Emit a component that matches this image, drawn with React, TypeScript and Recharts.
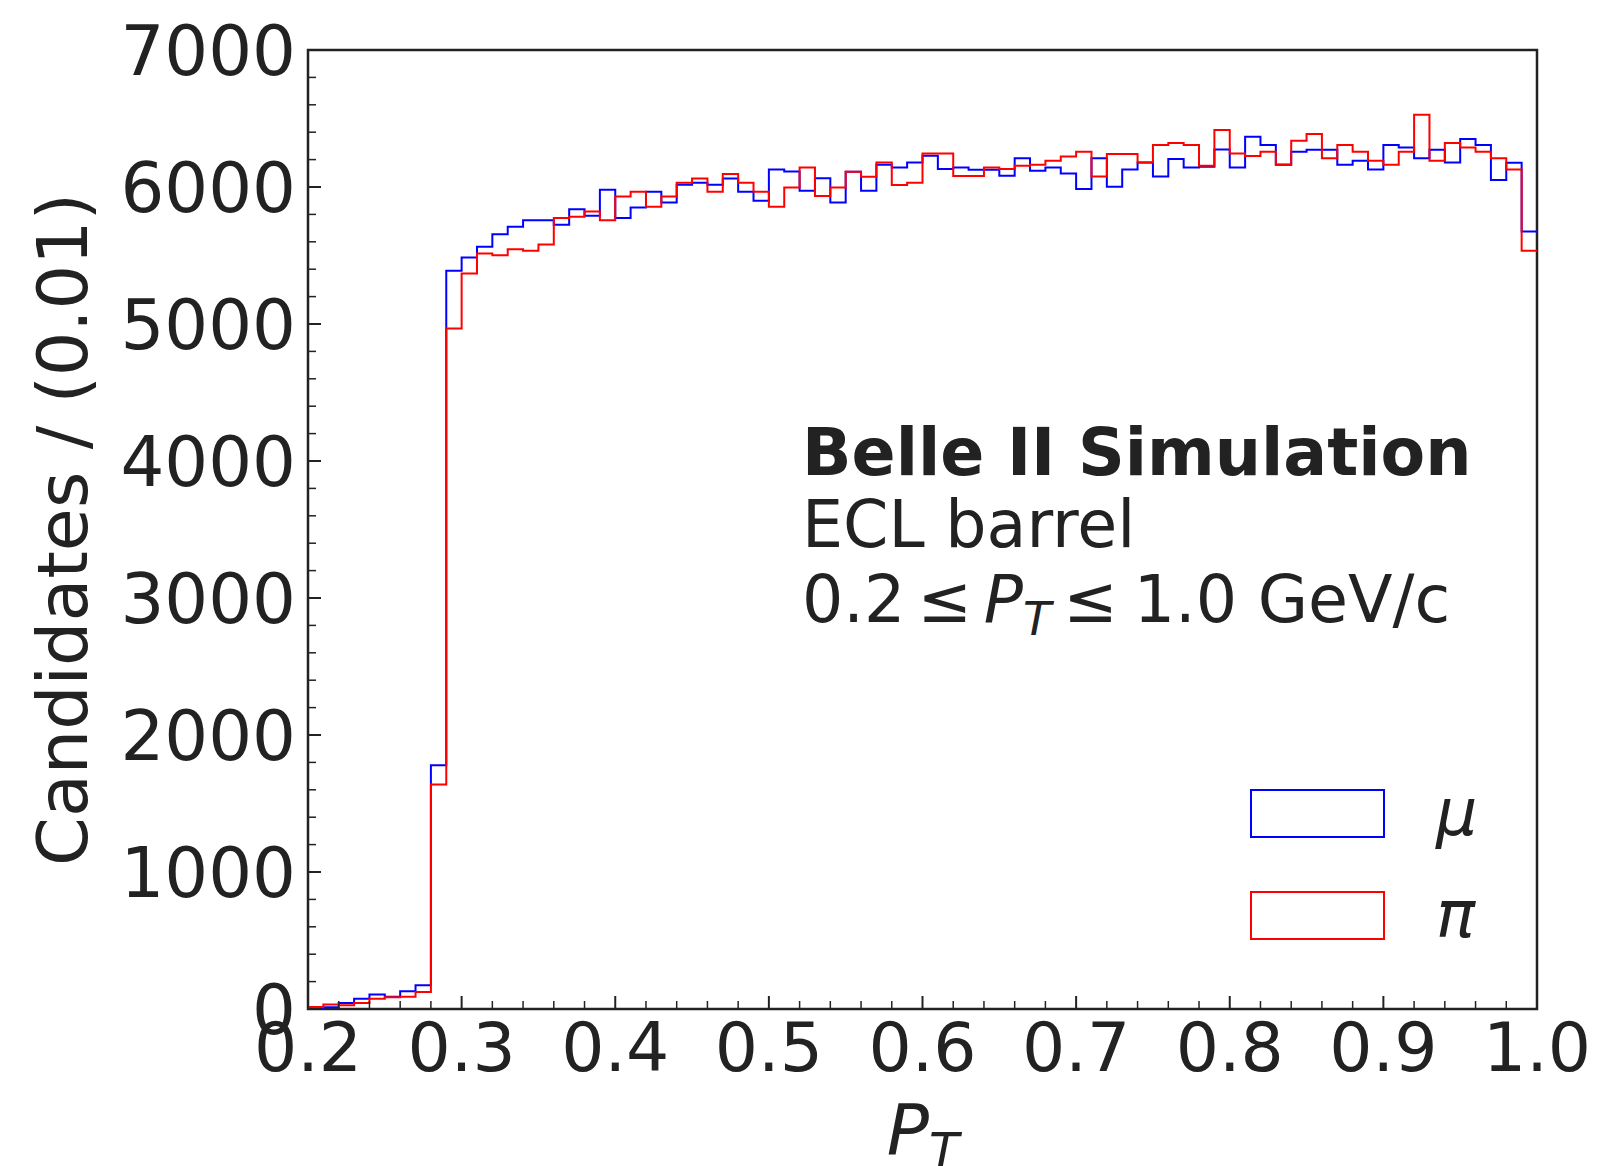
import { LineChart, Line, XAxis, YAxis, ReferenceArea, Legend } from "recharts";

const FONT = "'DejaVu Sans', 'Liberation Sans', sans-serif";
const INK = "#222";

// bins of 0.01 in P_T, from 0.20 to 1.00
const BIN_START = 0.2;
const BIN_WIDTH = 0.01;

const muCounts = [
  5, 12, 44, 75, 105, 90, 129, 173, 1780, 5388,
  5485, 5563, 5656, 5709, 5758, 5758, 5724, 5838, 5790, 5980,
  5773, 5850, 5965, 5887, 6016, 6031, 6016, 6062, 5965, 5899,
  6128, 6114, 5973, 6063, 5887, 6111, 5973, 6162, 6143, 6179,
  6228, 6131, 6143, 6126, 6126, 6082, 6209, 6119, 6143, 6099,
  5985, 6209, 6002, 6128, 6179, 6077, 6204, 6143, 6148, 6274,
  6143, 6367, 6306, 6165, 6258, 6272, 6272, 6162, 6192, 6128,
  6306, 6289, 6209, 6272, 6179, 6350, 6306, 6051, 6177, 5675,
];

const piCounts = [
  15, 32, 27, 44, 75, 85, 90, 124, 1639, 4967,
  5368, 5514, 5502, 5546, 5534, 5580, 5773, 5782, 5821, 5758,
  5931, 5965, 5855, 5931, 6031, 6062, 5965, 6094, 6031, 5965,
  5855, 5997, 6143, 5934, 5997, 6111, 6075, 6179, 6014, 6031,
  6245, 6245, 6080, 6080, 6143, 6131, 6155, 6162, 6192, 6223,
  6258, 6077, 6241, 6241, 6179, 6306, 6321, 6306, 6155, 6416,
  6245, 6226, 6258, 6160, 6338, 6387, 6209, 6306, 6258, 6192,
  6162, 6258, 6528, 6192, 6321, 6289, 6258, 6209, 6128, 5534,
];

const xTicks = [
  0.2, 0.22, 0.24, 0.26, 0.28, 0.3, 0.32, 0.34, 0.36, 0.38, 0.4, 0.42, 0.44, 0.46, 0.48,
  0.5, 0.52, 0.54, 0.56, 0.58, 0.6, 0.62, 0.64, 0.66, 0.68, 0.7, 0.72, 0.74, 0.76, 0.78,
  0.8, 0.82, 0.84, 0.86, 0.88, 0.9, 0.92, 0.94, 0.96, 0.98, 1.0,
];

const yTicks = [
  0, 200, 400, 600, 800, 1000, 1200, 1400, 1600, 1800, 2000, 2200, 2400, 2600, 2800,
  3000, 3200, 3400, 3600, 3800, 4000, 4200, 4400, 4600, 4800, 5000, 5200, 5400, 5600,
  5800, 6000, 6200, 6400, 6600, 6800, 7000,
];

// step data: each point is a bin's low edge, last point closes the final bin
const rows = muCounts.map((mu, i) => ({
  pt: Number((BIN_START + i * BIN_WIDTH).toFixed(2)),
  mu,
  pi: piCounts[i],
}));
rows.push({ pt: 1.0, mu: muCounts[muCounts.length - 1], pi: piCounts[piCounts.length - 1] });

function XTick({ x, y, payload }: any) {
  const v = payload.value;
  const major = Math.abs(v * 10 - Math.round(v * 10)) < 1e-6;
  return (
    <g>
      <line x1={x} x2={x} y1={y} y2={y - (major ? 13 : 8)} stroke={INK} strokeWidth={major ? 2 : 1.5} />
      {major && (
        <text x={x} y={y + 62} textAnchor="middle" fontSize={68} fill={INK} fontFamily={FONT}>
          {v.toFixed(1)}
        </text>
      )}
    </g>
  );
}

function YTick({ x, y, payload }: any) {
  const v = payload.value;
  const major = v % 1000 === 0;
  return (
    <g>
      <line x1={x} x2={x + (major ? 13 : 8)} y1={y} y2={y} stroke={INK} strokeWidth={major ? 2 : 1.5} />
      {major && (
        <text x={x - 12} y={y + 25} textAnchor="end" fontSize={69} fill={INK} fontFamily={FONT}>
          {v}
        </text>
      )}
    </g>
  );
}

function LegendBox() {
  const boxes = [
    { color: "#0000ff", label: "μ", top: 10 },
    { color: "#ff0000", label: "π", top: 112 },
  ];
  return (
    <svg width={260} height={170} style={{ overflow: "visible" }}>
      {boxes.map((b) => (
        <g key={b.label}>
          <rect x={11} y={b.top} width={133} height={47} fill="none" stroke={b.color} strokeWidth={2} />
          <text x={196} y={b.top + 45} fontSize={65} fontStyle="italic" fill={INK} fontFamily={FONT}>
            {b.label}
          </text>
        </g>
      ))}
    </svg>
  );
}

export default function App() {
  return (
    <div style={{ position: "absolute", left: 0, top: 0, width: 1599, height: 1166, background: "#fff" }}>
      <LineChart width={1599} height={1166} data={rows} margin={{ top: 50, right: 62, bottom: 0, left: 0 }}>
        <XAxis
          dataKey="pt"
          type="number"
          domain={[0.2, 1.0]}
          ticks={xTicks}
          interval={0}
          height={157}
          tickSize={0}
          tickMargin={0}
          axisLine={false}
          tickLine={false}
          tick={<XTick />}
          allowDataOverflow
        />
        <YAxis
          type="number"
          domain={[0, 7000]}
          ticks={yTicks}
          interval={0}
          width={308}
          tickSize={0}
          tickMargin={0}
          axisLine={false}
          tickLine={false}
          tick={<YTick />}
          allowDataOverflow
        />
        <Line
          name="μ"
          dataKey="mu"
          type="stepAfter"
          stroke="#0000ff"
          strokeWidth={2}
          dot={false}
          isAnimationActive={false}
        />
        <Line
          name="π"
          dataKey="pi"
          type="stepAfter"
          stroke="#ff0000"
          strokeWidth={2}
          dot={false}
          isAnimationActive={false}
        />
        <ReferenceArea x1={0.2} x2={1.0} y1={0} y2={7000} fill="none" stroke={INK} strokeWidth={2.5} ifOverflow="visible" />
        <Legend
          layout="horizontal"
          verticalAlign="middle"
          align="center"
          wrapperStyle={{ left: 1240, top: 780, width: 260, height: 170 }}
          content={<LegendBox />}
        />
      </LineChart>
      <svg
        width={1599}
        height={1166}
        style={{ position: "absolute", left: 0, top: 0, pointerEvents: "none" }}
        fontFamily={FONT}
        fill={INK}
      >
        <text transform="translate(63,529.5) rotate(-90)" textAnchor="middle" dominantBaseline="central" fontSize={70}>
          Candidates / (0.01)
        </text>
        <text x={922.8} y={1154} textAnchor="middle" fontSize={70} fontStyle="italic">
          <tspan>P</tspan>
          <tspan fontSize={49} dy={14}>T</tspan>
        </text>
        <text x={802} y={475} fontSize={65} fontWeight="bold">
          Belle II Simulation
        </text>
        <text x={802} y={547} fontSize={65}>
          ECL barrel
        </text>
        <text x={802} y={622} fontSize={65}>
          <tspan>0.2</tspan>
          <tspan dx={12}>≤</tspan>
          <tspan dx={12} fontStyle="italic">P</tspan>
          <tspan fontStyle="italic" fontSize={46} dy={13}>T</tspan>
          <tspan dx={12} dy={-13}>≤</tspan>
          <tspan dx={16}>1.0 GeV/c</tspan>
        </text>
      </svg>
    </div>
  );
}
